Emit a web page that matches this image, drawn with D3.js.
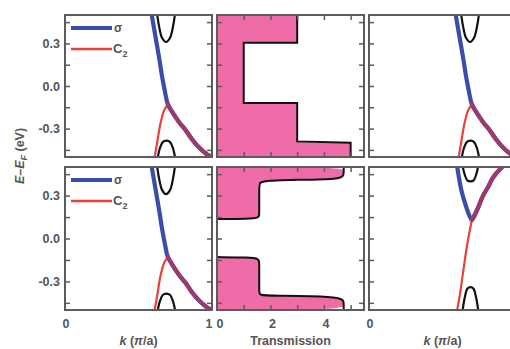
<!DOCTYPE html>
<html><head><meta charset="utf-8">
<script src="https://cdn.jsdelivr.net/npm/d3@7"></script>
<style>
html,body{margin:0;padding:0;background:#fff;}
svg text{font-family:"Liberation Sans",Arial,sans-serif;font-weight:bold;fill:#555;}
</style></head>
<body>
<svg id="c" width="510" height="349"></svg>
<script>
// ---------- data ----------
const energyTicks = [-0.45, -0.3, -0.15, 0, 0.15, 0.3, 0.45];
const energyLabels = [0.3, 0.0, -0.3];
const transTicks = [1, 2, 3, 4, 5];
const transLabels = [0, 2, 4];
const kLabels = [0, 1];
const legendItems = ["σ", "C2"];

// band panel A (top-left, top-right, bottom-left)
const sigmaA   = [[0.59,0.5],[0.615,0.35],[0.64,0.2],[0.66,0.07],[0.68,-0.04],[0.70,-0.13]];
const sharedA  = [[0.70,-0.13],[0.74,-0.2],[0.78,-0.26],[0.82,-0.31],[0.86,-0.37],[0.90,-0.42],[0.94,-0.46],[0.97,-0.485],[1.0,-0.5]];
const c2RiseA  = [[0.61,-0.5],[0.63,-0.38],[0.65,-0.26],[0.675,-0.17],[0.70,-0.13]];
const upperA   = [[0.625,0.52],[0.64,0.42],[0.66,0.34],[0.687,0.31],[0.715,0.34],[0.735,0.42],[0.75,0.52]];
const lowerA   = [[0.628,-0.52],[0.645,-0.44],[0.665,-0.395],[0.69,-0.385],[0.715,-0.395],[0.735,-0.44],[0.752,-0.52]];

// band panel D (bottom-right)
const sigmaD   = [[0.60,0.5],[0.63,0.33],[0.665,0.21],[0.685,0.155],[0.70,0.13]];
const sharedD  = [[0.70,0.13],[0.74,0.21],[0.776,0.30],[0.81,0.36],[0.84,0.42],[0.87,0.46],[0.905,0.5]];
const c2RiseD  = [[0.60,-0.5],[0.62,-0.38],[0.645,-0.2],[0.67,-0.03],[0.70,0.13]];
const upperD   = [[0.635,0.52],[0.65,0.45],[0.67,0.405],[0.69,0.40],[0.71,0.405],[0.73,0.45],[0.745,0.52]];
const lowerD   = [[0.635,-0.52],[0.65,-0.42],[0.67,-0.35],[0.69,-0.34],[0.71,-0.35],[0.73,-0.42],[0.745,-0.52]];

// transmission (T, E)
const transTop = [[3,0.5],[3,0.305],[1,0.305],[1,-0.12],[3,-0.12],[3,-0.39],[5,-0.40],[5,-0.5]];
const transBotUpper = [[4.74,0.5],[4.74,0.47],[4.74,0.44],[4.6,0.415],[3,0.41],[1.9,0.405],[1.58,0.395],[1.58,0.36],[1.58,0.17],[1.58,0.145],[1.2,0.137],[0,0.136]];
const transBotLower = [[0,-0.13],[1.2,-0.132],[1.58,-0.14],[1.58,-0.17],[1.58,-0.37],[1.58,-0.398],[2,-0.40],[4.5,-0.405],[4.74,-0.43],[4.74,-0.46],[4.74,-0.5]];

// ---------- layout ----------
const svg = d3.select("#c");
const colX = [65, 217, 369], W = 147;
const rows = [[15,157],[167,310]];
const frameColor = "#5c5c5c";
const BLUE = "#3a4da8", RED = "#e8423a", PURPLE = "#9c3a70", PINK = "#f06ca8";

let clipId = 0;
function panel(col, row) {
  const x0 = colX[col], [y0, y1] = rows[row];
  const y = d3.scaleLinear().domain([-0.5, 0.5]).range([y1, y0]);
  const id = "clip" + (clipId++);
  svg.append("clipPath").attr("id", id).append("rect")
    .attr("x", x0).attr("y", y0).attr("width", W).attr("height", y1 - y0);
  const g = svg.append("g").attr("clip-path", `url(#${id})`);
  return {x0, y0, y1, y, g};
}
function frame(p, xScale, topBottomTicks) {
  const f = svg.append("g");
  const yl = d3.axisLeft(p.y).tickValues(energyTicks).tickSize(-5).tickFormat("");
  const yr = d3.axisRight(p.y).tickValues(energyTicks).tickSize(-5).tickFormat("");
  f.append("g").attr("transform", `translate(${p.x0},0)`).call(yl);
  f.append("g").attr("transform", `translate(${p.x0 + W},0)`).call(yr);
  if (topBottomTicks) {
    f.append("g").attr("transform", `translate(0,${p.y0})`)
      .call(d3.axisTop(xScale).tickValues(transTicks).tickSize(-5).tickFormat(""));
    f.append("g").attr("transform", `translate(0,${p.y1})`)
      .call(d3.axisBottom(xScale).tickValues(transTicks).tickSize(-5).tickFormat(""));
  }
  f.selectAll(".domain").remove();
  f.selectAll(".tick line").attr("stroke", frameColor).attr("stroke-width", 1.5);
  f.append("rect").attr("x", p.x0).attr("y", p.y0).attr("width", W).attr("height", p.y1 - p.y0)
    .attr("fill", "none").attr("stroke", frameColor).attr("stroke-width", 2);
}

function bandPanel(col, row, d, legend) {
  const p = panel(col, row);
  const x = d3.scaleLinear().domain([0, 1]).range([p.x0, p.x0 + W]);
  const line = d3.line().x(v => x(v[0])).y(v => p.y(v[1])).curve(d3.curveCatmullRom.alpha(0.5));
  p.g.append("path").attr("d", line(d.upper)).attr("fill","none").attr("stroke","#111").attr("stroke-width",2.2);
  p.g.append("path").attr("d", line(d.lower)).attr("fill","none").attr("stroke","#111").attr("stroke-width",2.2);
  p.g.append("path").attr("d", line(d.sigma.concat(d.shared.slice(1)))).attr("fill","none").attr("stroke",BLUE).attr("stroke-width",4.2).attr("stroke-linecap","round");
  p.g.append("path").attr("d", line(d.rise)).attr("fill","none").attr("stroke",RED).attr("stroke-width",2.2);
  p.g.append("path").attr("d", line(d.shared)).attr("fill","none").attr("stroke",PURPLE).attr("stroke-width",4.2).attr("stroke-linecap","round");
  frame(p, x, false);
  if (legend) {
    const lg = svg.append("g");
    lg.append("line").attr("x1", p.x0 + 6).attr("x2", p.x0 + 47).attr("y1", p.y0 + 13).attr("y2", p.y0 + 13)
      .attr("stroke", BLUE).attr("stroke-width", 4.2);
    lg.append("line").attr("x1", p.x0 + 6).attr("x2", p.x0 + 47).attr("y1", p.y0 + 34).attr("y2", p.y0 + 34)
      .attr("stroke", RED).attr("stroke-width", 2.4);
    lg.append("text").attr("x", p.x0 + 49).attr("y", p.y0 + 17).attr("font-size", 12).text(legendItems[0]);
    const t = lg.append("text").attr("x", p.x0 + 48).attr("y", p.y0 + 38).attr("font-size", 13);
    t.append("tspan").text(legendItems[1][0]);
    t.append("tspan").attr("font-size", 9).attr("dy", 4).text(legendItems[1].slice(1));
  }
  return {p, x};
}

function transPanel(row, pieces) {
  const p = panel(1, row);
  const x = d3.scaleLinear().domain([0, 5.5]).range([p.x0, p.x0 + W]);
  pieces.forEach(pc => {
    const pts = [[0, pc.pts[0][1]]].concat(pc.pts).concat([[0, pc.pts[pc.pts.length-1][1]]]);
    const area = d3.line().x(v => x(v[0])).y(v => p.y(v[1])).curve(pc.curve);
    p.g.append("path").attr("d", area(pts) + "Z").attr("fill", PINK).attr("stroke", "none");
    p.g.append("path").attr("d", d3.line().x(v => x(v[0])).y(v => p.y(v[1])).curve(pc.curve)(pc.pts))
      .attr("fill", "none").attr("stroke", "#111").attr("stroke-width", 2);
  });
  frame(p, x, true);
  return {p, x};
}

const A = {sigma: sigmaA, shared: sharedA, rise: c2RiseA, upper: upperA, lower: lowerA};
const D = {sigma: sigmaD, shared: sharedD, rise: c2RiseD, upper: upperD, lower: lowerD};

const tl = bandPanel(0, 0, A, true);
const tm = transPanel(0, [{pts: transTop, curve: d3.curveLinear}]);
const tr = bandPanel(2, 0, A, false);
const bl = bandPanel(0, 1, A, true);
const bm = transPanel(1, [{pts: transBotUpper, curve: d3.curveBasis}, {pts: transBotLower, curve: d3.curveBasis}]);
const br = bandPanel(2, 1, D, false);

// energy tick labels
[tl, bl].forEach(o => {
  energyLabels.forEach(v => {
    svg.append("text").attr("x", o.p.x0 - 5).attr("y", o.p.y(v) + 4.5)
      .attr("text-anchor", "end").attr("font-size", 12.5).text(d3.format(".1f")(v).replace("−","-"));
  });
});
// x labels
const xlY = 328;
svg.append("text").attr("x", bl.x(kLabels[0]) + 1).attr("y", xlY).attr("text-anchor","middle").attr("font-size",12.5).text(kLabels[0]);
svg.append("text").attr("x", bl.x(kLabels[1]) - 3).attr("y", xlY).attr("text-anchor","middle").attr("font-size",12.5).text(kLabels[1]);
transLabels.forEach(v => {
  svg.append("text").attr("x", bm.x(v) + (v === 0 ? 3 : 2)).attr("y", xlY).attr("text-anchor","middle").attr("font-size",12.5).text(v);
});
svg.append("text").attr("x", br.x(kLabels[0]) + 1).attr("y", xlY).attr("text-anchor","middle").attr("font-size",12.5).text(kLabels[0]);

// axis titles
function kTitle(o) {
  const t = svg.append("text").attr("x", o.p.x0 + W / 2).attr("y", 345).attr("text-anchor", "middle").attr("font-size", 12.5);
  t.append("tspan").attr("font-style", "italic").text("k");
  t.append("tspan").text(" (");
  t.append("tspan").attr("font-style", "italic").text("π");
  t.append("tspan").text("/a)");
}
kTitle(bl); kTitle(br);
svg.append("text").attr("x", bm.p.x0 + W / 2).attr("y", 345).attr("text-anchor", "middle").attr("font-size", 12.5).text("Transmission");

const yt = svg.append("text").attr("transform", "translate(24,156) rotate(-90)").attr("text-anchor", "middle").attr("font-size", 12.5);
yt.append("tspan").attr("font-style", "italic").text("E");
yt.append("tspan").text("–");
yt.append("tspan").attr("font-style", "italic").text("E");
yt.append("tspan").attr("font-style", "italic").attr("font-size", 9).attr("dy", 3).text("F");
yt.append("tspan").attr("dy", -3).text(" (eV)");
</script>
</body></html>
